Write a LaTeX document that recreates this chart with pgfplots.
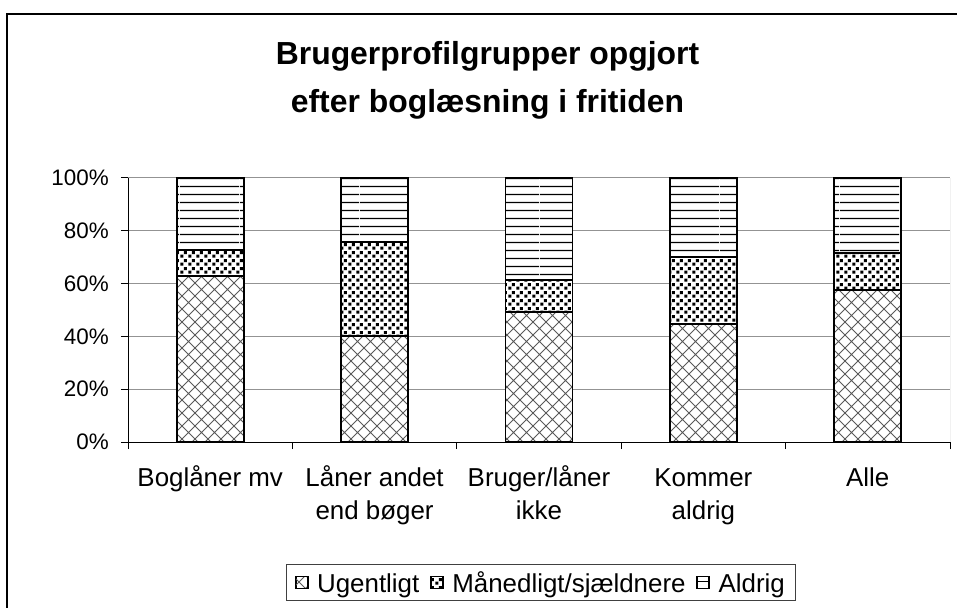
\documentclass[border=0pt]{standalone}
\usepackage{pgfplots}
\pgfplotsset{compat=1.18}
\usepackage{fontspec}
\setmainfont{Liberation Sans}
\usetikzlibrary{patterns}

\pgfdeclarepatternformonly{xcross}{\pgfqpoint{-0.5bp}{-0.5bp}}{\pgfqpoint{13.5bp}{13.5bp}}{\pgfqpoint{13bp}{13bp}}{%
  \pgfsetlinewidth{0.9bp}%
  \pgfpathmoveto{\pgfqpoint{-0.5bp}{-0.5bp}}\pgfpathlineto{\pgfqpoint{13.5bp}{13.5bp}}%
  \pgfpathmoveto{\pgfqpoint{-0.5bp}{13.5bp}}\pgfpathlineto{\pgfqpoint{13.5bp}{-0.5bp}}%
  \pgfusepath{stroke}}

\pgfdeclarepatternformonly{sqdots}{\pgfqpoint{0bp}{0bp}}{\pgfqpoint{7.5bp}{7.5bp}}{\pgfqpoint{7.5bp}{7.5bp}}{%
  \pgfpathrectangle{\pgfqpoint{0.3bp}{0.3bp}}{\pgfqpoint{3.2bp}{3.2bp}}%
  \pgfpathrectangle{\pgfqpoint{4.05bp}{4.05bp}}{\pgfqpoint{3.2bp}{3.2bp}}%
  \pgfusepathqfill}

\pgfdeclarepatternformonly{hlines}{\pgfqpoint{0bp}{0bp}}{\pgfqpoint{60bp}{7.5bp}}{\pgfqpoint{60bp}{7.5bp}}{%
  \pgfpathrectangle{\pgfqpoint{0bp}{3.05bp}}{\pgfqpoint{60bp}{1.4bp}}%
  \pgfusepathqfill}

\begin{document}
\begin{tikzpicture}
\useasboundingbox (0,0) rectangle (957bp,608bp);
\draw[line width=2bp] (7bp,-20bp) -- (7bp,593.5bp) -- (990bp,593.5bp);
\node[font=\bfseries\fontsize{32}{38}\selectfont, anchor=base] at (487.5bp,543bp) {Brugerprofilgrupper opgjort};
\node[font=\bfseries\fontsize{32}{38}\selectfont, anchor=base] at (487.5bp,495bp) {efter boglæsning i fritiden};
\begin{axis}[
  at={(128bp,166bp)}, anchor=south west,
  scale only axis, width=822bp, height=264bp,
  ybar stacked, bar width=67bp,
  xmin=-0.5, xmax=4.5, ymin=0, ymax=100,
  axis x line*=bottom, axis y line*=left,
  axis line style={black, line width=1bp},
  ymajorgrids, major grid style={gray!85, line width=1bp},
  tick align=outside, major tick length=7bp,
  tick style={black, line width=1bp},
  xtick={-0.5,0.5,1.5,2.5,3.5,4.5}, xticklabels={},
  extra x ticks={0,1,2,3,4},
  extra x tick labels={{\strut Boglåner mv},{\strut Låner andet\\end bøger},{\strut Bruger/låner\\ikke},{\strut Kommer\\aldrig},{\strut Alle}},
  extra x tick style={major tick length=0pt, tick style={draw=none}},
  xticklabel style={font=\fontsize{26}{33}\selectfont, align=center, inner sep=0pt, anchor=north, yshift=-21bp},
  ytick={0,20,40,60,80,100},
  yticklabels={0\%,20\%,40\%,60\%,80\%,100\%},
  yticklabel style={font=\fontsize{22.5}{26}\selectfont, inner sep=0pt, anchor=east, xshift=-12bp},
  legend columns=3,
  legend style={at={(0.5024,-0.532)}, anchor=center, draw=black!75, line width=1bp,
    font=\fontsize{26}{30}\selectfont, inner xsep=9bp, inner ysep=5bp,
    /tikz/every odd column/.append style={column sep=7bp},
    /tikz/every even column/.append style={column sep=9bp}},
  legend image code/.code={\draw[#1, line width=1bp] (0bp,-6bp) rectangle (12bp,6bp);},
]
\addplot[draw=black, line width=1.8bp, pattern=xcross, pattern color=black!65, preaction={fill=white}]
  coordinates {(0,63.0) (1,40.3) (2,49.1) (3,44.7) (4,57.6)};
\addplot[draw=black, line width=1.8bp, pattern=sqdots, pattern color=black, preaction={fill=white}]
  coordinates {(0,9.7) (1,35.6) (2,12.3) (3,25.5) (4,14.1)};
\addplot[draw=black, line width=1.8bp, pattern=hlines, pattern color=black, preaction={fill=white}]
  coordinates {(0,27.3) (1,24.1) (2,38.6) (3,29.8) (4,28.3)};
\legend{\strut Ugentligt,\strut Månedligt/sjældnere,\strut Aldrig}
\draw[gray!85, line width=1bp] (rel axis cs:1,0) -- (rel axis cs:1,1);
\end{axis}
\end{tikzpicture}
\end{document}
